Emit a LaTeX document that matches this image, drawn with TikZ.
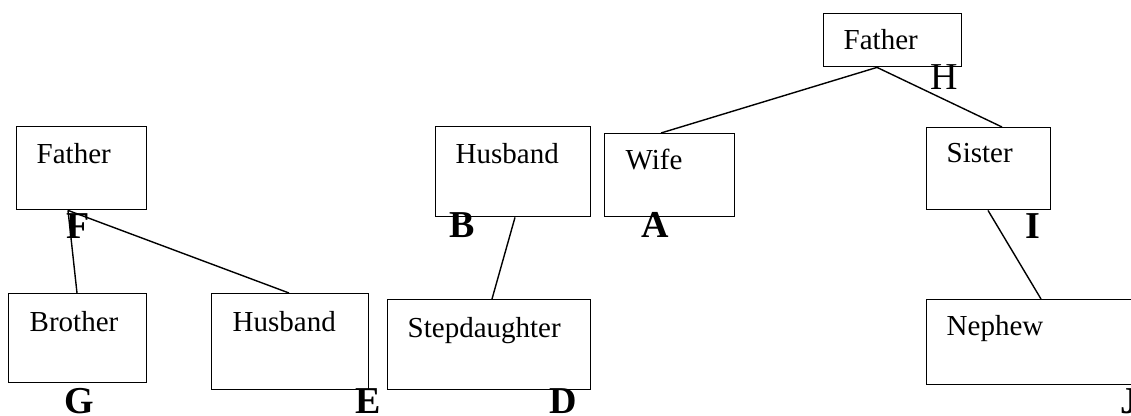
\documentclass[tikz,border=0pt]{standalone}
\usepackage{fontspec}
\setmainfont{Liberation Serif}
\usetikzlibrary{calc}
\begin{document}
\begin{tikzpicture}[x=0.5pt,y=-0.5pt,line width=0.7pt,
	box/.style 2 args={draw,anchor=north west,inner sep=0pt,minimum width=#1,minimum height=#2},
	boxtext/.style={anchor=base west,inner sep=0pt,font=\fontsize{14.5}{17}\selectfont},
	letter/.style={anchor=base,inner sep=0pt,font=\fontsize{19}{22}\selectfont\bfseries}]
		\useasboundingbox (0,0) rectangle (1131,416);
		% boxes
		\node[box={69pt}{26.5pt}] (ft) at (823,13) {};
		\node[box={65pt}{41.5pt}] (wi) at (604,133) {};
		\node[box={62pt}{41pt}] (si) at (926,127) {};
		\node[box={77.5pt}{45pt}] (hm) at (435,126) {};
		\node[box={101.5pt}{45pt}] (sd) at (387,299) {};
		\node[box={104pt}{42.5pt}] (ne) at (926,299) {};
		\node[box={65pt}{41.5pt}] (fl) at (16,126) {};
		\node[box={69pt}{44.5pt}] (br) at (8,293) {};
		\node[box={78.5pt}{48pt}] (hl) at (211,293) {};
		% texts
		\node[boxtext] (tft) at (843,50) {Father};
		\node[boxtext] (twi) at (625,170) {Wife};
		\node[boxtext] (tsi) at (946,163) {Sister};
		\node[boxtext] (thm) at (455,164) {Husband};
		\node[boxtext] (tsd) at (407,338) {Stepdaughter};
		\node[boxtext] (tne) at (946,336) {Nephew};
		\node[boxtext] (tfl) at (36,164) {Father};
		\node[boxtext] (tbr) at (29,332) {Brother};
		\node[boxtext] (thl) at (232,332) {Husband};
		% links
		\draw ($(ft.south west)+(54,0)$) -- ($(wi.north west)+(57,0)$);
		\draw ($(ft.south west)+(54,0)$) -- ($(si.north west)+(76,0)$);
		\draw ($(hm.south west)+(80,0)$) -- ($(sd.north west)+(105,0)$);
		\draw ($(si.south west)+(62,0)$) -- ($(ne.north west)+(115,0)$);
		\draw ($(fl.south west)+(52,0)$) -- ($(br.north west)+(69,0)$);
		\draw ($(fl.south west)+(52,0)$) -- ($(hl.north west)+(78,0)$);
		% letters
		\node[letter,font=\fontsize{19}{22}\selectfont] (h) at (944,90) {H};
		\node[letter] (f) at (78,239) {F};
		\node[letter] (b) at (462,238) {B};
		\node[letter] (a) at (655,238) {A};
		\node[letter] (i) at (1033,239) {I};
		\node[letter] (g) at (79,414) {G};
		\node[letter] (e) at (368,414) {E};
		\node[letter] (d) at (563,414) {D};
		\node[letter] (j) at (1130,414) {J};
	\end{tikzpicture}
\end{document}
